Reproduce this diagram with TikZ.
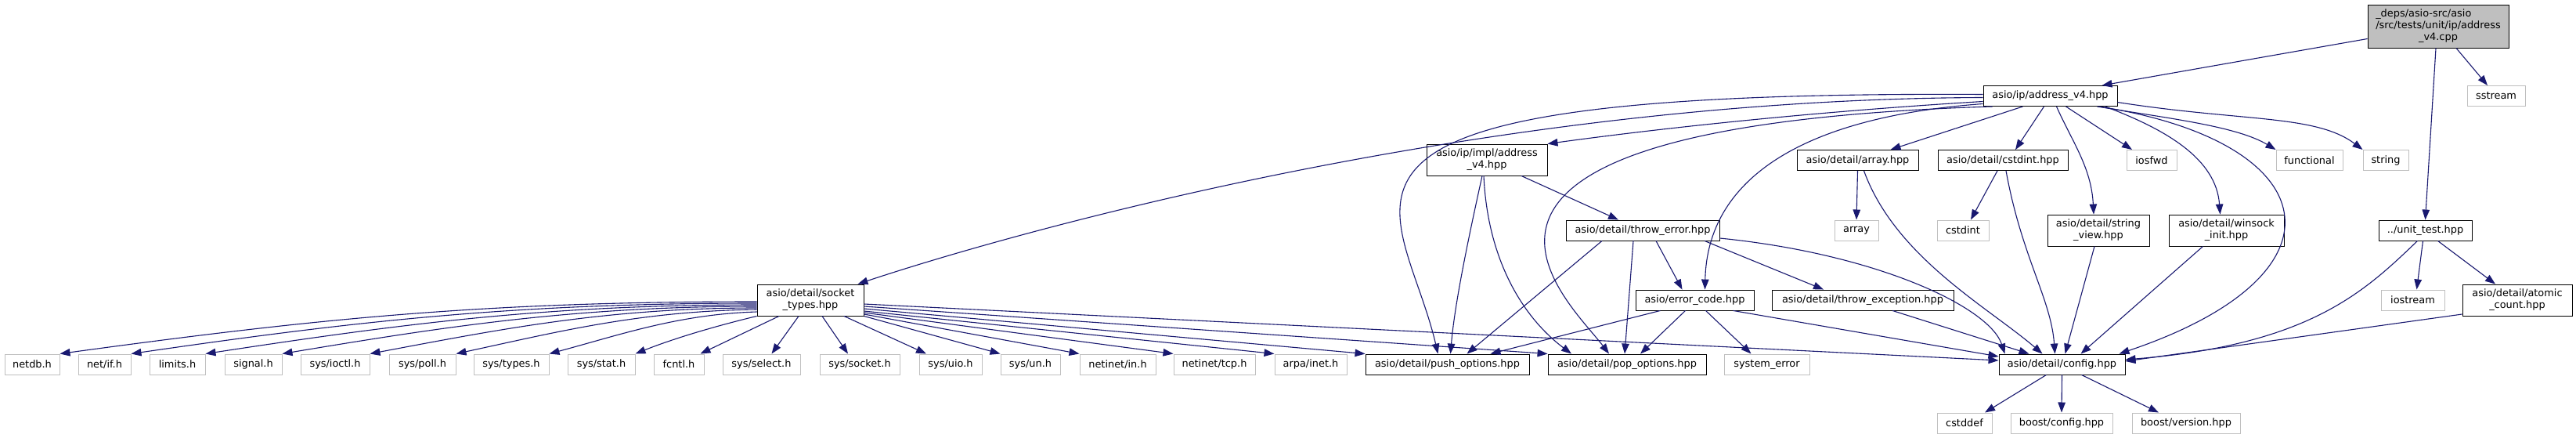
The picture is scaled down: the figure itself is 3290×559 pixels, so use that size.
\documentclass[tikz,border=0pt]{standalone}
\usepackage{fontspec}
\setmainfont{DejaVu Sans}
\usetikzlibrary{arrows.meta}
\definecolor{edgec}{HTML}{191970}
\definecolor{greyb}{HTML}{BFBFBF}
\definecolor{mainfill}{HTML}{BFBFBF}
\begin{document}
\begin{tikzpicture}[x=1pt,y=-1pt,
  font=\fontsize{12.9}{15}\selectfont,
  box/.style={draw=black, line width=0.9pt, fill=white, inner sep=0pt, align=center},
  sys/.style={draw=greyb, line width=1pt, fill=white, inner sep=0pt, align=center},
  hone/.style={minimum height=26pt},
  htwo/.style={minimum height=40pt},
  dep/.style={draw=edgec, line width=1.1pt, -{Triangle[length=13pt,width=9.5pt]}}]
\fill[white] (0,0) rectangle (3290,559);
\useasboundingbox (0,0) rectangle (3290,559);
% row 0
\node[box,fill=mainfill,minimum width=180pt,minimum height=55pt] (main) at (3114,33.5)
 {\begin{tabular}{@{}l@{}}\_deps/asio-src/asio\\/src/tests/unit/ip/address\\\multicolumn{1}{@{}c@{}}{\_v4.cpp}\end{tabular}};
% row 1
\node[box,minimum width=171pt,hone] (addr) at (2618.5,122.5) {asio/ip/address\_v4.hpp};
\node[sys,minimum width=74pt,hone] (sstream) at (3188,122.5) {sstream};
% row 2
\node[box,minimum width=154pt,htwo] (impl) at (1899,204) {asio/ip/impl/address\\\_v4.hpp};
\node[box,minimum width=155pt,hone] (arrayhpp) at (2372.5,204.5) {asio/detail/array.hpp};
\node[box,minimum width=166pt,hone] (cstdinthpp) at (2558,204.5) {asio/detail/cstdint.hpp};
\node[sys,minimum width=64pt,hone] (iosfwd) at (2748,204.5) {iosfwd};
\node[sys,minimum width=85pt,hone] (functional) at (2949.5,204.5) {functional};
\node[sys,minimum width=58pt,hone] (string) at (3047,204.5) {string};
% row 3
\node[box,minimum width=196pt,hone] (throwerr) at (2098,294) {asio/detail/throw\_error.hpp};
\node[sys,minimum width=56pt,hone] (array) at (2371,294) {array};
\node[sys,minimum width=66pt,hone] (cstdint) at (2507,294) {cstdint};
\node[box,minimum width=130pt,htwo] (stringview) at (2680,294) {asio/detail/string\\\_view.hpp};
\node[box,minimum width=147pt,htwo] (winsock) at (2843.5,294) {asio/detail/winsock\\\_init.hpp};
\node[box,minimum width=119pt,hone] (unittest) at (3097.5,294) {../unit\_test.hpp};
% row 4
\node[box,minimum width=136pt,htwo] (socket) at (1035,383) {asio/detail/socket\\\_types.hpp};
\node[box,minimum width=151pt,hone] (errcode) at (2164.5,383) {asio/error\_code.hpp};
\node[box,minimum width=232pt,hone] (throwexc) at (2379,383) {asio/detail/throw\_exception.hpp};
\node[sys,minimum width=81pt,hone] (iostream) at (3081.5,383) {iostream};
\node[box,minimum width=140pt,htwo] (atomic) at (3215,383) {asio/detail/atomic\\\_count.hpp};
% row 5
\node[sys,minimum width=70pt,hone] (netdb) at (41,465) {netdb.h};
\node[sys,minimum width=67pt,hone] (netif) at (133.5,465) {net/if.h};
\node[sys,minimum width=71pt,hone] (limits) at (226.5,465) {limits.h};
\node[sys,minimum width=73pt,hone] (signal) at (323.5,465) {signal.h};
\node[sys,minimum width=88pt,hone] (ioctl) at (428,465) {sys/ioctl.h};
\node[sys,minimum width=85pt,hone] (poll) at (539.5,465) {sys/poll.h};
\node[sys,minimum width=96pt,hone] (types) at (653,465) {sys/types.h};
\node[sys,minimum width=86pt,hone] (stat) at (768,465) {sys/stat.h};
\node[sys,minimum width=64pt,hone] (fcntl) at (867,465) {fcntl.h};
\node[sys,minimum width=99pt,hone] (select) at (972.5,465) {sys/select.h};
\node[sys,minimum width=102pt,hone] (socketh) at (1098,465) {sys/socket.h};
\node[sys,minimum width=80pt,hone] (uio) at (1214,465) {sys/uio.h};
\node[sys,minimum width=76pt,hone] (un) at (1316,465) {sys/un.h};
\node[sys,minimum width=97pt,hone] (netin) at (1427.5,465) {netinet/in.h};
\node[sys,minimum width=104pt,hone] (tcp) at (1551,465) {netinet/tcp.h};
\node[sys,minimum width=92pt,hone] (inet) at (1674,465) {arpa/inet.h};
\node[box,minimum width=209pt,hone] (push) at (1848.5,465) {asio/detail/push\_options.hpp};
\node[box,minimum width=202pt,hone] (pop) at (2078,465) {asio/detail/pop\_options.hpp};
\node[sys,minimum width=109pt,hone] (syserr) at (2256.5,465) {system\_error};
\node[box,minimum width=161pt,hone] (config) at (2633.5,465) {asio/detail/config.hpp};
% row 6
\node[sys,minimum width=70pt,hone] (cstddef) at (2509,540) {cstddef};
\node[sys,minimum width=130pt,hone] (bconfig) at (2633,540) {boost/config.hpp};
\node[sys,minimum width=138pt,hone] (bversion) at (2792,540) {boost/version.hpp};
% edges: main
\draw[dep] ([yshift=-16pt]main.west) -- ([xshift=66pt]addr.north);
\draw[dep] ([xshift=23pt]main.south) -- ([xshift=-11pt]sstream.north);
\draw[dep] ([xshift=-3pt]main.south) -- (unittest.north);
% addr
\draw[dep] ([yshift=-7pt]addr.west) .. controls +(-200,12) and +(160,-22) .. (impl.north east);
\draw[dep] ([yshift=-2pt]addr.west) .. controls +(-650,2) and +(180,-60) .. ([xshift=-8pt]socket.north east);
\draw[dep] ([yshift=2pt]addr.west) .. controls +(-933,-5) and +(-47,-202) .. ([xshift=-12pt]push.north);
\draw[dep] ([xshift=-74pt]addr.south) .. controls +(-795,25) and +(-55,-72) .. ([xshift=-23pt]pop.north);
\draw[dep] ([yshift=-10pt]addr.west) .. controls +(-233,17) and +(3,-140) .. ([xshift=13pt]errcode.north);
\draw[dep] ([xshift=-35pt]addr.south) -- ([xshift=42pt]arrayhpp.north);
\draw[dep] ([xshift=-8pt]addr.south) -- ([xshift=16pt]cstdinthpp.north);
\draw[dep] ([xshift=8pt]addr.south) .. controls +(20,45) and +(-3,-60) .. ([xshift=-6pt]stringview.north);
\draw[dep] ([xshift=20pt]addr.south) -- ([xshift=-25pt]iosfwd.north);
\draw[dep] ([xshift=60pt]addr.south) .. controls +(90,15) and +(-50,-30) .. (functional.north west);
\draw[dep] ([yshift=-8pt]addr.east) .. controls +(160,25) and +(-60,-45) .. (string.north west);
\draw[dep] ([xshift=70pt]addr.south) .. controls +(80,30) and +(-5,-70) .. ([xshift=-8pt]winsock.north);
\draw[dep] ([xshift=62pt]addr.south) .. controls +(290,45) and +(303,-102) .. ([xshift=73pt]config.north);
% impl
\draw[dep] ([xshift=44pt]impl.south) -- ([xshift=-31pt]throwerr.north);
\draw[dep] ([xshift=-6pt]impl.south) .. controls +(-20,90) and +(5,-60) .. ([xshift=4pt]push.north);
\draw[dep] ([xshift=-4pt]impl.south) .. controls +(5,110) and +(-60,-45) .. ([xshift=-71pt]pop.north);
% throw_error
\draw[dep] ([xshift=-52pt]throwerr.south) -- ([xshift=25pt]push.north);
\draw[dep] ([xshift=-12pt]throwerr.south) -- ([xshift=-3pt]pop.north);
\draw[dep] ([xshift=17pt]throwerr.south) -- ([xshift=-16pt]errcode.north);
\draw[dep] ([xshift=79pt]throwerr.south) -- ([xshift=-50pt]throwexc.north);
\draw[dep] ([yshift=-10pt]throwerr.east) .. controls +(200,20) and +(-20,-60) .. ([xshift=8pt]config.north west);
% error_code
\draw[dep] ([xshift=-44pt]errcode.south) -- ([xshift=55pt]push.north);
\draw[dep] ([xshift=-12pt]errcode.south) -- ([xshift=17pt]pop.north);
\draw[dep] ([xshift=14pt]errcode.south) -- ([xshift=-20pt]syserr.north);
\draw[dep] ([xshift=49pt]errcode.south) -- ([yshift=10pt]config.west);
% throw_exception
\draw[dep] ([xshift=38pt]throwexc.south) -- ([xshift=-42pt]config.north);
% array / cstdint
\draw[dep] (arrayhpp.south) -- (array.north);
\draw[dep] ([xshift=8pt]arrayhpp.south) .. controls +(40,110) and +(-70,-60) .. ([xshift=-25pt]config.north);
\draw[dep] ([xshift=-7pt]cstdinthpp.south) -- ([xshift=10pt]cstdint.north);
\draw[dep] ([xshift=4pt]cstdinthpp.south) .. controls +(20,110) and +(-5,-70) .. ([xshift=-9pt]config.north);
\draw[dep] ([xshift=-5pt]stringview.south) -- ([xshift=4pt]config.north);
\draw[dep] ([xshift=-30pt]winsock.south) -- ([xshift=24pt]config.north);
% socket_types
\draw[dep] ([yshift=-5pt]socket.east) -- ([yshift=5pt]config.west);
\draw[dep] ([yshift=-8pt]socket.east) -- (pop.north west);
\draw[dep] ([yshift=-11pt]socket.east) -- (push.north west);
\draw[dep] ([yshift=-14pt]socket.east) -- (inet.north west);
\draw[dep] ([yshift=-16pt]socket.east) -- (tcp.north west);
\draw[dep] ([yshift=-18pt]socket.east) -- (netin.north west);
\draw[dep] (socket.south east) -- (un.north west);
\draw[dep] ([xshift=43pt]socket.south) -- ([xshift=-31pt]uio.north);
\draw[dep] ([xshift=15pt]socket.south) -- ([xshift=-15pt]socketh.north);
\draw[dep] ([xshift=-15pt]socket.south) -- ([xshift=13pt]select.north);
\draw[dep] ([xshift=-40pt]socket.south) -- ([xshift=-5pt]fcntl.north east);
\draw[dep] (socket.south west) .. controls +(-50,12) and +(50,-20) .. (stat.north east);
\draw[dep] ([yshift=-2pt]socket.west) .. controls +(-350,0) and +(330,-45) .. (netdb.north east);
\draw[dep] ([yshift=-4pt]socket.west) .. controls +(-310,0) and +(290,-42) .. (netif.north east);
\draw[dep] ([yshift=-6pt]socket.west) .. controls +(-270,0) and +(250,-38) .. (limits.north east);
\draw[dep] ([yshift=-8pt]socket.west) .. controls +(-230,0) and +(210,-35) .. (signal.north east);
\draw[dep] ([yshift=-10pt]socket.west) .. controls +(-190,0) and +(170,-32) .. (ioctl.north east);
\draw[dep] ([yshift=-12pt]socket.west) .. controls +(-150,2) and +(130,-28) .. (poll.north east);
\draw[dep] ([yshift=-15pt]socket.west) .. controls +(-100,3) and +(90,-24) .. (types.north east);
% unit_test
\draw[dep] ([xshift=-3pt]unittest.south) -- ([xshift=5pt]iostream.north);
\draw[dep] ([xshift=16pt]unittest.south) -- ([xshift=-28pt]atomic.north);
\draw[dep] ([xshift=-10pt]unittest.south) .. controls +(-67,64) and +(236,-19) .. ([yshift=6pt]config.east);
\draw[dep] ([yshift=-18pt]atomic.west) -- ([yshift=4pt]config.east);
% config
\draw[dep] ([xshift=-20pt]config.south) -- ([xshift=26pt]cstddef.north);
\draw[dep] (config.south) -- (bconfig.north);
\draw[dep] ([xshift=25pt]config.south) -- ([xshift=-35pt]bversion.north);
\end{tikzpicture}
\end{document}
